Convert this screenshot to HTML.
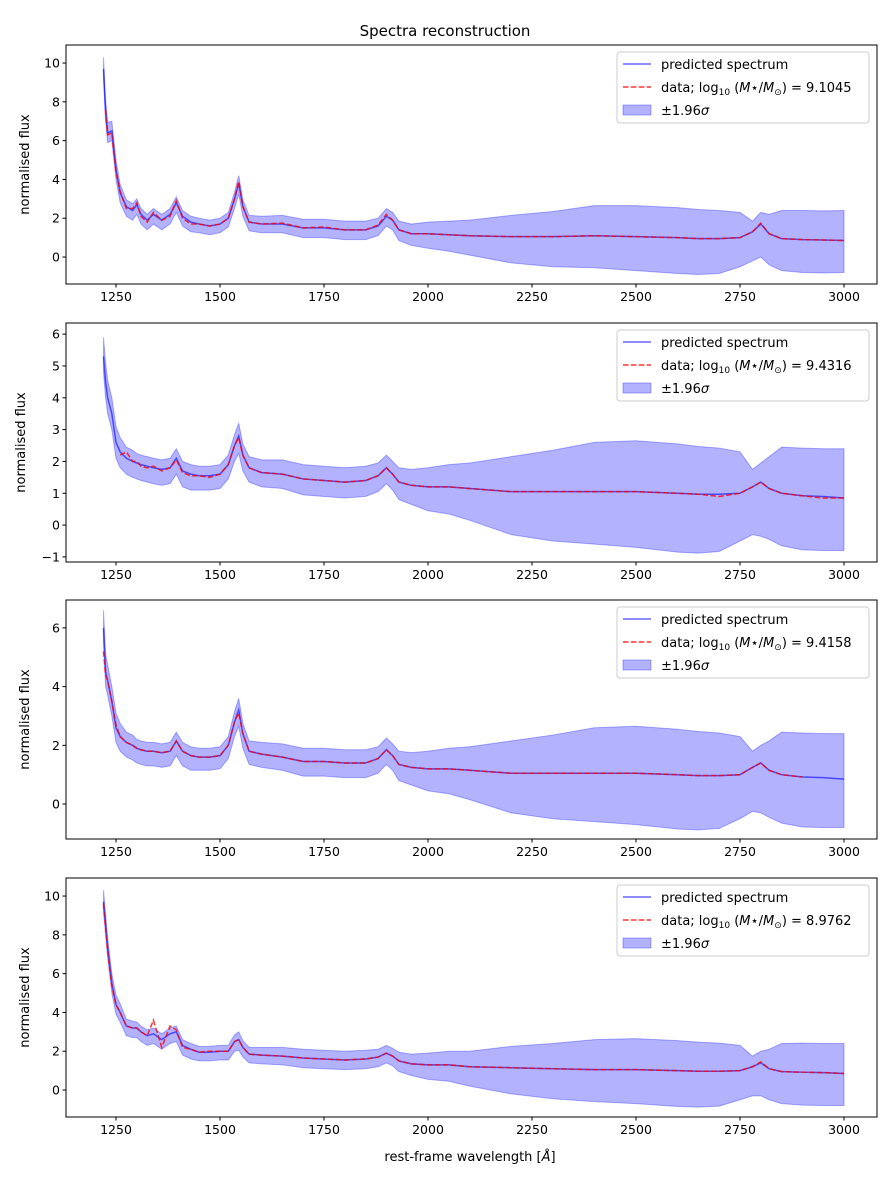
<!DOCTYPE html>
<html><head><meta charset="utf-8"><style>
body{margin:0;background:#fff}
svg{display:block;font-family:"DejaVu Sans","Liberation Sans",sans-serif}
</style></head><body>
<svg id="fig" width="891" height="1181" viewBox="0 0 891 1181" xmlns="http://www.w3.org/2000/svg">
<rect width="891" height="1181" fill="#fff"/>
<text x="445" y="36" text-anchor="middle" font-size="15">Spectra reconstruction</text>
<text x="470" y="1161" text-anchor="middle" font-size="13">rest-frame wavelength [<tspan font-style="italic">Å</tspan>]</text>
</svg>
<script>
const wl=[1220,1225,1230,1240,1250,1260,1275,1290,1300,1310,1325,1340,1360,1380,1395,1410,1430,1450,1475,1500,1520,1535,1545,1555,1570,1600,1650,1700,1750,1800,1850,1880,1900,1915,1930,1960,2000,2050,2100,2200,2300,2400,2500,2600,2650,2700,2750,2780,2800,2820,2850,2900,2950,3000];
const hiW=[0.6,0.6,0.55,0.5,0.5,0.45,0.35,0.35,0.3,0.3,0.3,0.3,0.3,0.3,0.3,0.3,0.3,0.3,0.3,0.3,0.3,0.35,0.4,0.35,0.35,0.4,0.45,0.45,0.45,0.45,0.45,0.4,0.4,0.4,0.45,0.5,0.6,0.7,0.8,1.1,1.3,1.55,1.6,1.55,1.5,1.45,1.3,0.55,0.6,1.0,1.45,1.5,1.5,1.55];
const loW=[0.5,0.5,0.5,0.5,0.5,0.5,0.5,0.5,0.5,0.5,0.5,0.5,0.5,0.5,0.5,0.5,0.5,0.45,0.45,0.45,0.45,0.5,0.55,0.5,0.45,0.45,0.45,0.5,0.5,0.5,0.5,0.5,0.5,0.5,0.55,0.6,0.75,0.85,1.0,1.35,1.55,1.65,1.75,1.85,1.85,1.8,1.5,1.5,1.7,1.6,1.65,1.7,1.7,1.65];
const mean1=[9.7,7.5,6.4,6.5,4.5,3.3,2.6,2.4,2.7,2.2,1.9,2.2,1.9,2.2,2.8,2.1,1.8,1.7,1.6,1.7,2.0,3.0,3.8,2.6,1.8,1.7,1.7,1.5,1.5,1.4,1.4,1.6,2.1,1.9,1.4,1.2,1.2,1.15,1.1,1.05,1.05,1.1,1.05,1.0,0.95,0.95,1.0,1.3,1.7,1.2,0.95,0.9,0.88,0.85];
const mean2=[5.3,4.5,4.0,3.5,2.6,2.3,2.1,2.0,1.95,1.9,1.85,1.8,1.75,1.8,2.1,1.7,1.6,1.55,1.55,1.6,1.9,2.5,2.8,2.2,1.8,1.65,1.6,1.45,1.4,1.35,1.4,1.55,1.8,1.6,1.35,1.25,1.2,1.2,1.15,1.05,1.05,1.05,1.05,1.0,0.97,0.97,1.0,1.2,1.35,1.15,1.0,0.92,0.9,0.85];
const mean3=[6.0,4.5,4.2,3.5,2.6,2.3,2.1,2.0,1.9,1.85,1.8,1.8,1.75,1.8,2.15,1.8,1.65,1.6,1.6,1.65,2.0,2.8,3.2,2.4,1.8,1.7,1.6,1.45,1.45,1.4,1.4,1.55,1.85,1.65,1.35,1.25,1.2,1.2,1.15,1.05,1.05,1.05,1.05,1.0,0.97,0.97,1.0,1.25,1.4,1.15,1.0,0.92,0.9,0.85];
const mean4=[9.7,8.5,7.3,5.5,4.4,4.0,3.3,3.2,3.2,3.0,2.8,2.9,2.6,2.9,3.0,2.3,2.1,1.95,1.95,2.0,2.0,2.5,2.6,2.2,1.85,1.8,1.75,1.65,1.6,1.55,1.6,1.7,1.9,1.75,1.5,1.35,1.3,1.3,1.2,1.15,1.1,1.05,1.05,1.0,0.97,0.97,1.0,1.2,1.4,1.1,0.95,0.92,0.9,0.85];
const data1=[null,7.6,6.3,6.4,4.4,3.4,2.5,2.5,2.8,2.1,1.8,2.3,1.9,2.1,2.9,2.0,1.7,1.7,1.6,1.7,2.0,3.0,3.9,2.6,1.8,1.7,1.75,1.5,1.55,1.4,1.4,1.65,2.2,1.9,1.4,1.2,1.2,1.15,1.1,1.05,1.05,1.1,1.05,1.0,0.95,0.95,1.0,1.3,1.75,1.2,0.95,0.9,0.88,0.85];
const data2=[null,null,null,null,null,2.2,2.3,2.0,2.0,1.85,1.8,1.85,1.7,1.8,2.05,1.65,1.55,1.55,1.5,1.6,1.9,2.5,2.75,2.2,1.8,1.65,1.6,1.45,1.4,1.35,1.4,1.55,1.8,1.6,1.35,1.25,1.2,1.2,1.15,1.05,1.05,1.05,1.05,1.0,0.97,0.9,1.0,1.2,1.35,1.15,1.0,0.92,0.85,0.85];
const data3=[5.2,4.4,4.2,3.5,2.7,2.3,2.1,2.0,1.9,1.85,1.8,1.8,1.75,1.8,2.15,1.8,1.65,1.6,1.6,1.65,2.0,2.8,3.1,2.4,1.8,1.7,1.6,1.45,1.45,1.4,1.4,1.55,1.85,1.65,1.35,1.25,1.2,1.2,1.15,1.05,1.05,1.05,1.05,1.0,0.97,0.97,1.0,1.25,1.4,1.15,1.0,0.92,null,null];
const data4=[9.6,8.4,7.2,5.4,4.4,4.0,3.3,3.2,3.2,3.0,2.8,3.6,2.2,3.3,3.1,2.2,2.1,1.95,2.0,2.0,2.0,2.5,2.6,2.2,1.85,1.8,1.75,1.65,1.6,1.55,1.6,1.7,1.9,1.75,1.5,1.35,1.3,1.3,1.2,1.15,1.1,1.05,1.05,1.0,0.97,0.97,1.0,1.2,1.45,1.1,0.95,0.92,0.9,0.85];
const massLabels=["9.1045","9.4316","9.4158","8.9762"];
const xTicks=[1250,1500,1750,2000,2250,2500,2750,3000];
const panelYTicks=[[0,2,4,6,8,10],[-1,0,1,2,3,4,5,6],[0,2,4,6],[0,2,4,6,8,10]];
const panelYRange=[[-1.39,10.93],[-1.16,6.35],[-1.19,6.95],[-1.39,10.93]];
const panelMeans=[mean1,mean2,mean3,mean4];
const panelData=[data1,data2,data3,data4];
const panelTop=[45,323,600,878];
const NS="http://www.w3.org/2000/svg";
const svg=document.getElementById('fig');
const L=66,R=877,H=239;
const xs=v=>116+(v-1250)*(728/1750);
function mk(t,a,p){const e=document.createElementNS(NS,t);for(const k in a)e.setAttribute(k,a[k]);(p||svg).appendChild(e);return e;}
panelMeans.forEach((mean,pi)=>{
  const top=panelTop[pi],bot=top+H,[y0,y1]=panelYRange[pi];
  const ys=v=>bot-(v-y0)/(y1-y0)*H;
  const g=mk('g',{});
  
  
  let up=wl.map((w,i)=>xs(w)+','+ys(mean[i]+hiW[i])),lo=wl.map((w,i)=>xs(w)+','+ys(mean[i]-loW[i])).reverse();
  const band=mk('polygon',{points:up.concat(lo).join(' '),fill:'rgba(0,0,255,0.3)',stroke:'rgba(0,0,255,0.3)','stroke-width':1},g);
  
  
  const ml=mk('polyline',{points:wl.map((w,i)=>xs(w)+','+ys(mean[i])).join(' '),fill:'none',stroke:'rgba(0,0,255,0.6)','stroke-width':1.5},g);
  
  
  const d=panelData[pi];const pts=[];wl.forEach((w,i)=>{if(d[i]!=null)pts.push(xs(w)+','+ys(d[i]));});
  const dl=mk('polyline',{points:pts.join(' '),fill:'none',stroke:'rgba(255,0,0,0.8)','stroke-width':1.5,'stroke-dasharray':'5.5,2.4'},g);
  
  
  const fr=mk('rect',{x:L,y:top,width:R-L,height:H,fill:'none',stroke:'#000','stroke-width':1},g);
  
  
  xTicks.forEach(t=>{const x=xs(t);mk('line',{x1:x,x2:x,y1:bot,y2:bot+3.5,stroke:'#000'},g);
    const tx=mk('text',{x:x,y:bot+17,'text-anchor':'middle','font-size':12.5},g);tx.textContent=t;
    
    });
  panelYTicks[pi].forEach(t=>{const y=ys(t);mk('line',{x1:L-3.5,x2:L,y1:y,y2:y,stroke:'#000'},g);
    const tx=mk('text',{x:L-6,y:y+4.5,'text-anchor':'end','font-size':12.5},g);tx.textContent=t<0?'−'+(-t):t;
    
    });
  const yl=mk('text',{x:0,y:0,'text-anchor':'middle','font-size':13,transform:`translate(${pi==1?25:29},${top+H/2}) rotate(-90)`},g);
  yl.textContent='normalised flux';
  
  
  const lg=mk('g',{},g);
  
  
  const ly=top+7;
  mk('rect',{x:617,y:ly,width:252,height:71,rx:3,fill:'rgba(255,255,255,0.8)',stroke:'#ccc'},lg);
  mk('line',{x1:623,x2:651,y1:ly+12,y2:ly+12,stroke:'rgba(0,0,255,0.6)','stroke-width':1.5},lg);
  const t1=mk('text',{x:661,y:ly+17,'font-size':13},lg);t1.textContent='predicted spectrum';
  mk('line',{x1:623,x2:651,y1:ly+35,y2:ly+35,stroke:'rgba(255,0,0,0.8)','stroke-width':1.5,'stroke-dasharray':'5.5,2.4'},lg);
  const t2=mk('text',{x:661,y:ly+40,'font-size':13},lg);
  t2.innerHTML='data; log<tspan font-size="9" dy="3">10</tspan><tspan dy="-3"> (</tspan><tspan font-style="italic">M</tspan>⋆/<tspan font-style="italic">M</tspan><tspan font-size="9" dy="3">⊙</tspan><tspan dy="-3">) =  '+massLabels[pi]+'</tspan>';
  mk('rect',{x:623,y:ly+53,width:28,height:10,fill:'rgba(0,0,255,0.3)',stroke:'rgba(0,0,255,0.3)'},lg);
  const t3=mk('text',{x:661,y:ly+63,'font-size':13},lg);t3.innerHTML='±1.96<tspan font-style="italic">σ</tspan>';
});
</script>
</body></html>
